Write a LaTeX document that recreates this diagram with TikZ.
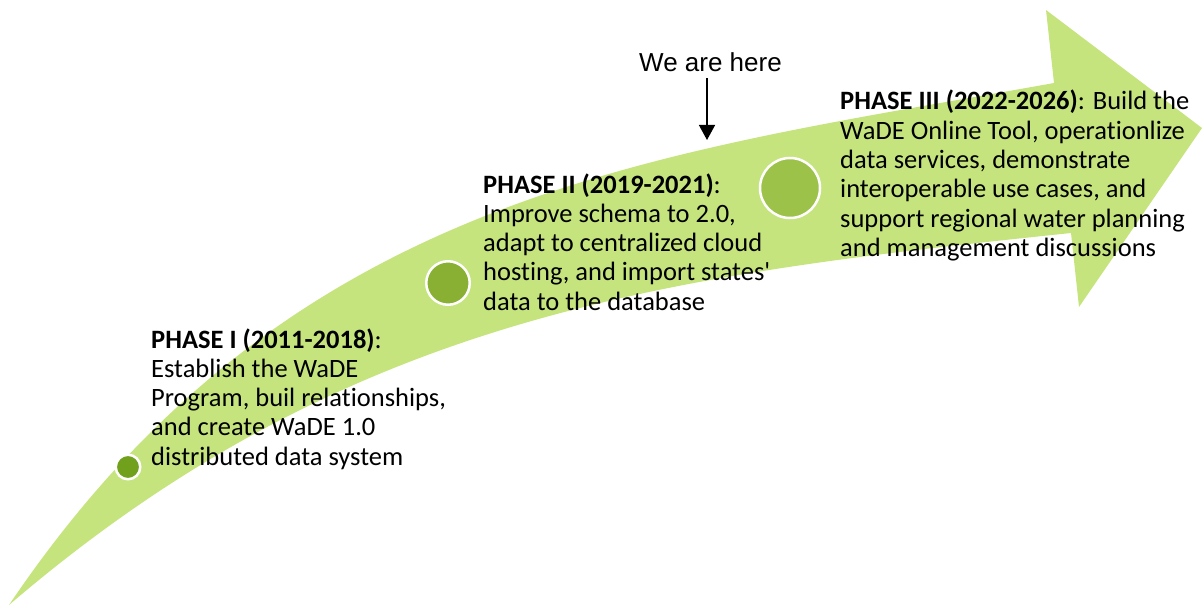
\documentclass[tikz,border=0pt]{standalone}
\usepackage{fontspec}
\setmainfont{Carlito}[Ligatures=NoCommon]
\newfontfamily\labelfont{Liberation Sans}
\usetikzlibrary{arrows.meta}
\definecolor{bandgreen}{RGB}{197,228,126}
\definecolor{dotA}{RGB}{113,160,28}
\definecolor{dotB}{RGB}{137,176,50}
\definecolor{dotC}{RGB}{157,194,74}
\begin{document}
\begin{tikzpicture}[x=1pt,y=-1pt,
  milestone/.style={circle, draw=white, line width=2.5pt, inner sep=0pt},
  phasetext/.style={anchor=base west, inner sep=0pt, font=\fontsize{26.5}{29.3}\selectfont},
  pointer/.style={-{Triangle[length=15pt,width=16pt]}, line width=1.5pt, black}]
\useasboundingbox (0,0) rectangle (1204,607);

% curved timeline band with its arrow head
\fill[bandgreen] (9,605) .. controls (289,190) and (654,155) .. (1054,83)
  -- (1046,10) -- (1202,128) -- (1079,307) -- (1071,233)
  .. controls (671,275) and (351,312) .. (9,605) -- cycle;

% milestones along the band
\node[milestone, fill=dotA, minimum size=24.5pt] (m1) at (128,467) {};
\node[milestone, fill=dotB, minimum size=43.5pt] (m2) at (448,283) {};
\node[milestone, fill=dotC, minimum size=60pt] (m3) at (790,188) {};

% phase descriptions
\node[phasetext] (p1) at (151,348) {\begin{tabular}[t]{@{}l@{}}
\textbf{PHASE I (2011-2018)}:\\
Establish the WaDE\\
Program, buil relationships,\\
and create WaDE 1.0\\
distributed data system
\end{tabular}};

\node[phasetext] (p2) at (483,193) {\begin{tabular}[t]{@{}l@{}}
\textbf{PHASE II (2019-2021)}:\\
Improve schema to 2.0,\\
adapt to centralized cloud\\
hosting, and import states\textquotesingle\\
data to the database
\end{tabular}};

\node[phasetext] (p3) at (840,110) {\begin{tabular}[t]{@{}l@{}}
\textbf{PHASE III (2022-2026)}: Build the\\
WaDE Online Tool, operationlize\\
data services, demonstrate\\
interoperable use cases, and\\
support regional water planning\\
and management discussions
\end{tabular}};

% current position marker
\node[inner sep=0pt, anchor=base, font=\labelfont\fontsize{26}{30}\selectfont] (here) at (710.5,72) {We are here};
\coordinate (hereTip) at (707,140);
\draw[pointer] ([yshift=-6pt]here.south -| hereTip) -- (hereTip);
\end{tikzpicture}
\end{document}
